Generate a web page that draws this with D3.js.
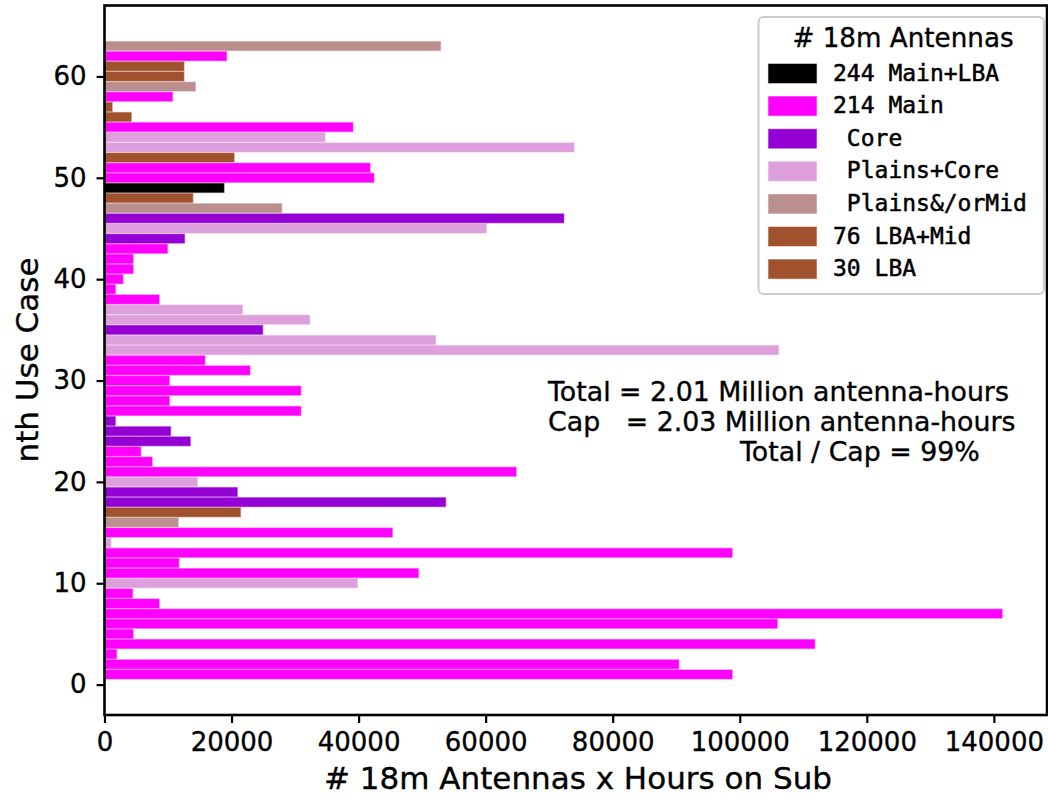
<!DOCTYPE html>
<html>
<head>
<meta charset="utf-8">
<script src="https://cdn.jsdelivr.net/npm/d3@7"></script>
<style>
  body { margin: 0; background: #fff; }
  text { white-space: pre; }
</style>
</head>
<body>
<svg id="chart" width="1048" height="802"></svg>
<script>
// ---- data -------------------------------------------------------------
// Use cases 1..63, antenna-hours per use case and the array configuration used.
const useCases = d3.range(1, 64);
const antennaHours = [
  98800, 90400, 1900, 111800, 4500, 105900, 141300, 8600, 4400, 39800,
  49400, 11700, 98800, 1000, 45300, 11600, 21400, 53700, 20900, 14600,
  64800, 7500, 5700, 13500, 10400, 1700, 30900, 10200, 30900, 10200,
  22900, 15800, 106100, 52100, 24900, 32300, 21700, 8600, 1700, 2900,
  4500, 4500, 9900, 12600, 60100, 72300, 27900, 13900, 18800, 42400,
  41800, 20400, 73900, 34700, 39100, 4200, 1200, 10700, 14300, 12500,
  12500, 19200, 52900
];
const configs = [
  "Main", "Main", "Main", "Main", "Main", "Main", "Main", "Main", "Main", "PlainsCore",
  "Main", "Main", "Main", "PlainsCore", "Main", "PlainsMid", "LBAMid", "Core", "Core", "PlainsCore",
  "Main", "Main", "Main", "Core", "Core", "Core", "Main", "Main", "Main", "Main",
  "Main", "Main", "PlainsCore", "PlainsCore", "Core", "PlainsCore", "PlainsCore", "Main", "Main", "Main",
  "Main", "Main", "Main", "Core", "PlainsCore", "Core", "PlainsMid", "LBAMid", "MainLBA", "Main",
  "Main", "LBAMid", "PlainsCore", "PlainsCore", "Main", "LBA", "LBA", "Main", "PlainsMid", "LBAMid",
  "LBAMid", "Main", "PlainsMid"
];

const legendKeys   = ["MainLBA", "Main", "Core", "PlainsCore", "PlainsMid", "LBAMid", "LBA"];
const legendLabels = ["244 Main+LBA", "214 Main", " Core", " Plains+Core", " Plains&/orMid", "76 LBA+Mid", "30 LBA"];
const legendColors = ["#000000", "#ff00ff", "#9400d3", "#dda0dd", "#bc8f8f", "#a0522d", "#a0522d"];

const xTicks = [0, 20000, 40000, 60000, 80000, 100000, 120000, 140000];
const yTicks = [0, 10, 20, 30, 40, 50, 60];

const legendTitle = "# 18m Antennas";
const notes = [
  "Total = 2.01 Million antenna-hours",
  "Cap   = 2.03 Million antenna-hours",
  "Total / Cap = 99%"
];
const xLabel = "# 18m Antennas x Hours on Sub";
const yLabel = "nth Use Case";

// ---- layout -----------------------------------------------------------
const plot = { left: 104.5, right: 1047, top: 5.5, bottom: 715 };
const sansFont = "'DejaVu Sans', 'Liberation Sans', sans-serif";
const monoFont = "'DejaVu Sans Mono', 'Liberation Mono', monospace";
const textWeight = 0.35; // slight outline so glyphs read a touch heavier

const svg = d3.select("#chart");

const color = d3.scaleOrdinal().domain(legendKeys).range(legendColors);

const x = d3.scaleLinear()
  .domain([0, d3.max(antennaHours) * 1.05])
  .range([plot.left, plot.right]);

const y = d3.scaleLinear()
  .domain([-3, 67])
  .range([plot.bottom, plot.top]);

const barHeight = 0.88;
const bars = useCases.map((u, i) => ({ u, v: antennaHours[i], c: configs[i] }));

// ---- bars -------------------------------------------------------------
svg.append("g")
  .selectAll("rect")
  .data(bars)
  .join("rect")
  .attr("x", x(0))
  .attr("y", d => y(d.u + barHeight / 2))
  .attr("width", d => x(d.v) - x(0))
  .attr("height", d => y(d.u - barHeight / 2) - y(d.u + barHeight / 2))
  .attr("fill", d => color(d.c))
  .attr("stroke", d => color(d.c))
  .attr("stroke-opacity", 0.45)
  .attr("stroke-width", 1.4);

// ---- axes -------------------------------------------------------------
const xAxis = svg.append("g")
  .attr("transform", `translate(0,${plot.bottom})`)
  .call(d3.axisBottom(x).tickValues(xTicks).tickFormat(d3.format("d")).tickSize(8).tickPadding(8).tickSizeOuter(0));

const yAxis = svg.append("g")
  .attr("transform", `translate(${plot.left},0)`)
  .call(d3.axisLeft(y).tickValues(yTicks).tickFormat(d3.format("d")).tickSize(8).tickPadding(10).tickSizeOuter(0));

[xAxis, yAxis].forEach(ax => {
  ax.select(".domain").remove();
  ax.selectAll(".tick line").attr("stroke", "#000").attr("stroke-width", 2.2);
  ax.selectAll(".tick text")
    .attr("fill", "#000")
    .attr("stroke", "#000")
    .attr("stroke-width", textWeight)
    .style("font-family", sansFont)
    .style("font-size", "26px");
});
xAxis.selectAll(".tick text").attr("dy", "0.76em");

// frame
svg.append("rect")
  .attr("x", plot.left)
  .attr("y", plot.top)
  .attr("width", plot.right - plot.left)
  .attr("height", plot.bottom - plot.top)
  .attr("fill", "none")
  .attr("stroke", "#000")
  .attr("stroke-width", 2.6);

// axis titles
svg.append("text")
  .attr("x", 578)
  .attr("y", 789)
  .attr("text-anchor", "middle")
  .attr("stroke", "#000")
  .attr("stroke-width", textWeight)
  .style("font-family", sansFont)
  .style("font-size", "31px")
  .text(xLabel);

svg.append("text")
  .attr("transform", "translate(38,360) rotate(-90)")
  .attr("text-anchor", "middle")
  .attr("stroke", "#000")
  .attr("stroke-width", textWeight)
  .style("font-family", sansFont)
  .style("font-size", "31px")
  .text(yLabel);

// ---- summary notes ----------------------------------------------------
svg.append("g")
  .selectAll("text")
  .data(notes)
  .join("text")
  .attr("x", (d, i) => i === 2 ? 740 : 548)
  .attr("y", (d, i) => 401 + i * 30)
  .attr("stroke", "#000")
  .attr("stroke-width", textWeight)
  .style("font-family", sansFont)
  .style("font-size", "26.8px")
  .text(d => d);

// ---- legend -----------------------------------------------------------
const legend = svg.append("g");
legend.append("rect")
  .attr("x", 758.5)
  .attr("y", 17)
  .attr("width", 285.5)
  .attr("height", 277)
  .attr("rx", 5)
  .attr("fill", "#fff")
  .attr("fill-opacity", 0.85)
  .attr("stroke", "#cccccc")
  .attr("stroke-width", 2);

legend.append("text")
  .attr("x", 903)
  .attr("y", 47)
  .attr("text-anchor", "middle")
  .attr("stroke", "#000")
  .attr("stroke-width", textWeight)
  .style("font-family", sansFont)
  .style("font-size", "26.2px")
  .text(legendTitle);

const rows = legend.selectAll("g.row")
  .data(legendLabels.map((l, i) => ({ l, c: legendColors[i], i })))
  .join("g")
  .attr("class", "row")
  .attr("transform", d => `translate(0,${64 + d.i * 32.6})`);

rows.append("rect")
  .attr("x", 768.5)
  .attr("y", 0)
  .attr("width", 48)
  .attr("height", 19)
  .attr("fill", d => d.c)
  .attr("stroke", d => d.c)
  .attr("stroke-opacity", 0.45)
  .attr("stroke-width", 1.2);

rows.append("text")
  .attr("x", 833)
  .attr("y", 16.5)
  .attr("stroke", "#000")
  .attr("stroke-width", 0.5)
  .style("font-family", monoFont)
  .style("font-size", "23px")
  .text(d => d.l);
</script>
</body>
</html>
